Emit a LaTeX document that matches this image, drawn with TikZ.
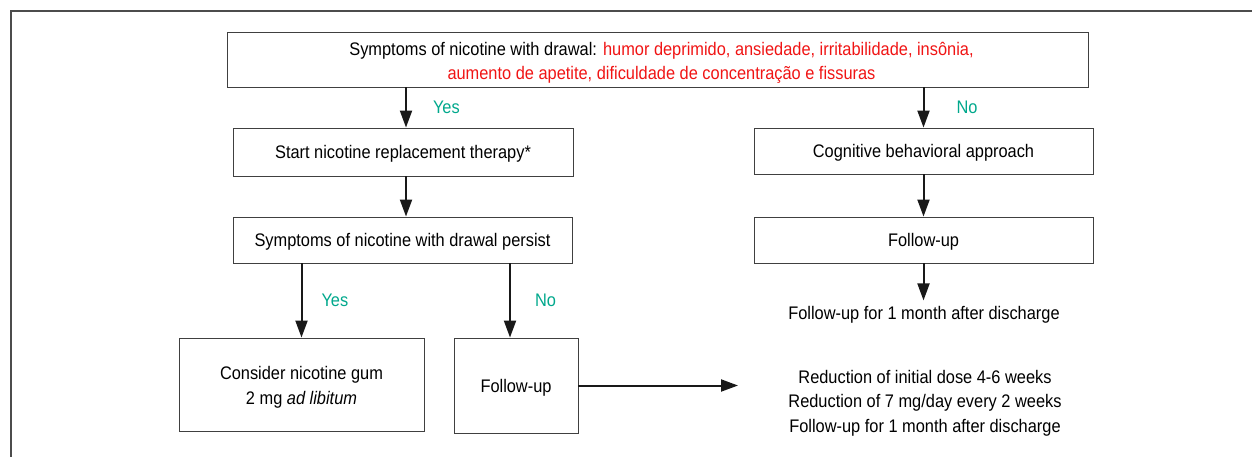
\documentclass[tikz,border=0pt]{standalone}
\usepackage{fontspec}
\usetikzlibrary{arrows.meta}
\setmainfont{Liberation Sans}[FakeStretch=0.9]
\definecolor{warnred}{RGB}{240,20,20}
\definecolor{answer}{RGB}{0,168,140}
\begin{document}
\begin{tikzpicture}[x=1pt, y=-1pt,
  box/.style={draw=black!75, line width=0.9pt, minimum width=#1, inner sep=0pt, align=center},
  one/.style={text height=17pt},
  arr/.style={-{Triangle[length=17pt, width=12pt]}, line width=2pt, black!90},
  lbl/.style={text=answer, inner sep=0pt},
  txt/.style={inner sep=2pt, align=center},
  every node/.style={font=\fontsize{18.2}{24.5}\selectfont}]
  \useasboundingbox (0,0) rectangle (1252,457);
  \draw[black!70, line width=1.3pt] (11,457) -- (11,11) -- (1252,11); % frame

  \node[box=861pt, minimum height=55pt] (top) at (657.5,59.5)
    {\rule{0pt}{20pt}\hspace*{8pt}Symptoms of nicotine with drawal: \textcolor{warnred}{humor deprimido, ansiedade, irritabilidade, insônia,}\\
     \hspace*{8pt}\textcolor{warnred}{aumento de apetite, dificuldade de concentração e fissuras}};
  \node[box=340pt, minimum height=48pt, one] (start) at (403,152) {Start nicotine replacement therapy*};
  \node[box=339pt, minimum height=46pt, one] (cog) at (923.5,151) {Cognitive behavioral approach};
  \node[box=339pt, minimum height=46pt, one] (persist) at (402.5,240) {Symptoms of nicotine with drawal persist};
  \node[box=339pt, minimum height=46pt, one] (fuR) at (923.5,240) {Follow-up};
  \node[txt, one] (month) at (924,313) {Follow-up for 1 month after discharge};
  \node[box=245pt, minimum height=93pt] (gum) at (301.5,384.5) {\rule{0pt}{19pt}Consider nicotine gum\\2 mg \textit{ad libitum}};
  \node[box=124pt, minimum height=95pt, one] (fuL) at (516,385.5) {Follow-up};
  \node[txt] (reduc) at (925,403) {Reduction of initial dose 4-6 weeks\\
    Reduction of 7 mg/day every 2 weeks\\Follow-up for 1 month after discharge};
  \coordinate (reducin) at (738,385.5);

  \draw[arr] (top.south -| 406,0) -- node[lbl, right=26pt] {Yes} (start.north -| 406,0);
  \draw[arr] (top.south -| cog.north) -- node[lbl, right=32pt] {No} (cog.north);
  \draw[arr] (start.south -| 406,0) -- (persist.north -| 406,0);
  \draw[arr] (cog) -- (fuR);
  \draw[arr] (fuR) -- (month.north -| fuR);
  \draw[arr] (persist.south -| gum.north) -- node[lbl, right=19pt] {Yes} (gum.north);
  \draw[arr] (persist.south -| 510,0) -- node[lbl, right=24pt] {No} (fuL.north -| 510,0);
  \draw[arr] (fuL) -- (reducin);
\end{tikzpicture}
\end{document}
